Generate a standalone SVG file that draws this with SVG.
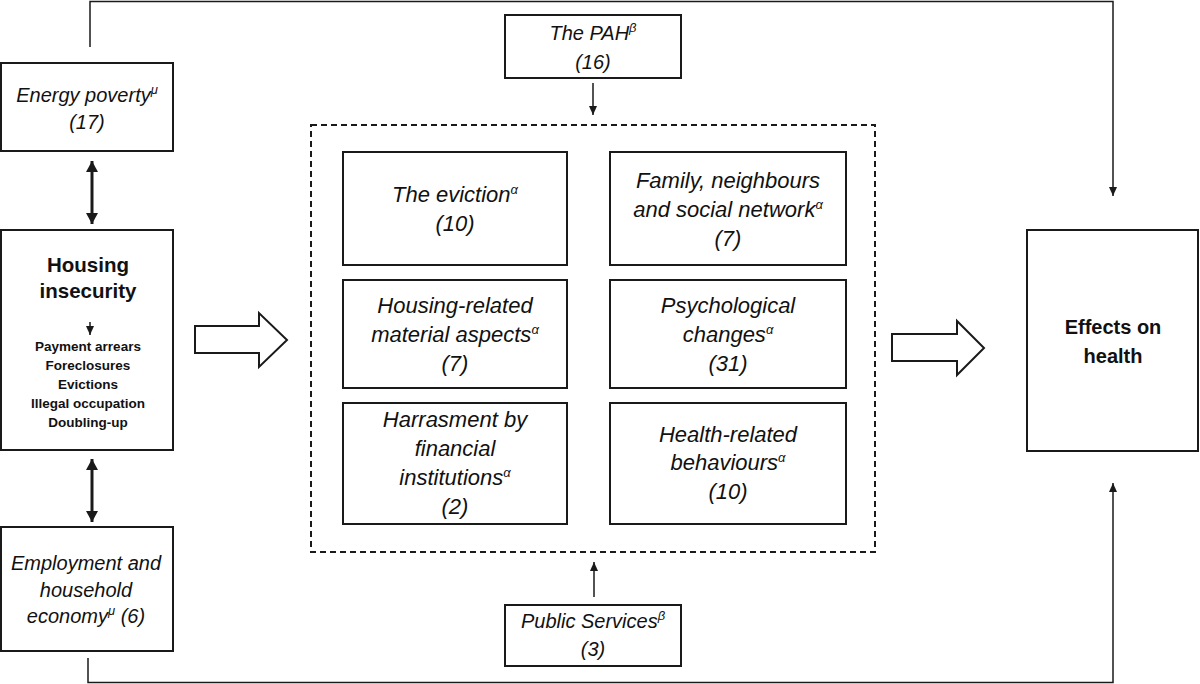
<svg xmlns="http://www.w3.org/2000/svg" width="1200" height="684" viewBox="0 0 1200 684">
<style>
  .box { fill: #fff; stroke: #1a1a1a; stroke-width: 2; }
  .dash { fill: none; stroke: #1a1a1a; stroke-width: 2; stroke-dasharray: 6 4; }
  .line { fill: none; stroke: #1a1a1a; stroke-width: 1.5; }
  .thick { fill: none; stroke: #1a1a1a; stroke-width: 3; }
  .block { fill: #fff; stroke: #1a1a1a; stroke-width: 2; stroke-linejoin: miter; }
  text { font-family: "Liberation Sans", Arial, sans-serif; fill: #111; text-anchor: middle; }
  .it { font-style: italic; font-size: 22px; }
  .itl { font-style: italic; font-size: 20px; }
  .bold { font-weight: bold; font-size: 20.5px; }
  .small { font-weight: bold; font-size: 13.5px; }
  .sup { font-size: 13px; }
</style>
<defs>
  <marker id="ah" markerUnits="userSpaceOnUse" markerWidth="10" markerHeight="10" refX="9" refY="5" orient="auto">
    <path d="M0,1 L9,5 L0,9 Z" fill="#1a1a1a"/>
  </marker>
  <marker id="ahb" markerUnits="userSpaceOnUse" markerWidth="12" markerHeight="14" refX="11" refY="7" orient="auto-start-reverse">
    <path d="M0,1 L11,7 L0,13 Z" fill="#1a1a1a"/>
  </marker>
</defs>

<g id="connectors">
  <polyline class="line" points="90,47 90,1.5 1113,1.5 1113,196" marker-end="url(#ah)"/>
  <polyline class="line" points="88,658 88,682.5 1113,682.5 1113,483" marker-end="url(#ah)"/>
  <line class="line" x1="593" y1="83" x2="593" y2="115" marker-end="url(#ah)"/>
  <line class="line" x1="594" y1="597" x2="594" y2="562" marker-end="url(#ah)"/>
  <line class="thick" x1="92" y1="161" x2="92" y2="224" marker-start="url(#ahb)" marker-end="url(#ahb)"/>
  <line class="thick" x1="92" y1="459" x2="92" y2="522" marker-start="url(#ahb)" marker-end="url(#ahb)"/>
  <polygon class="block" points="195,326 259,326 259,313 287,340 259,367 259,353 195,353"/>
  <polygon class="block" points="892,334 957,334 957,321 984,348 957,375 957,361 892,361"/>
</g>

<g id="energy-poverty">
  <rect class="box" x="1" y="63" width="172" height="88"/>
  <text class="itl" x="87" y="102">Energy poverty<tspan class="sup" dy="-8">μ</tspan></text>
  <text class="itl" x="87" y="129">(17)</text>
</g>

<g id="housing-insecurity">
  <rect class="box" x="1" y="230" width="172" height="220"/>
  <text class="bold" x="88" y="272">Housing</text>
  <text class="bold" x="88" y="298">insecurity</text>
  <line class="line" x1="90" y1="322" x2="90" y2="335" marker-end="url(#ah)"/>
  <text class="small" x="88" y="351">Payment arrears</text>
  <text class="small" x="88" y="370">Foreclosures</text>
  <text class="small" x="88" y="389">Evictions</text>
  <text class="small" x="88" y="408">Illegal occupation</text>
  <text class="small" x="88" y="427">Doubling-up</text>
</g>

<g id="employment">
  <rect class="box" x="1" y="527" width="172" height="124"/>
  <text class="itl" x="86" y="570">Employment and</text>
  <text class="itl" x="86" y="597">household</text>
  <text class="itl" x="86" y="623">economy<tspan class="sup" dy="-8">μ</tspan><tspan dy="8"> (6)</tspan></text>
</g>

<g id="pah">
  <rect class="box" x="505" y="15" width="176" height="63"/>
  <text class="itl" x="593" y="40">The PAH<tspan class="sup" dy="-8">β</tspan></text>
  <text class="itl" x="593" y="69">(16)</text>
</g>

<g id="mediators">
  <rect class="dash" x="311" y="125" width="564" height="427"/>
</g>

<g id="eviction">
  <rect class="box" x="343" y="152" width="224" height="113"/>
  <text class="it" x="455" y="202">The eviction<tspan class="sup" dy="-8">α</tspan></text>
  <text class="it" x="455" y="231">(10)</text>
</g>

<g id="family">
  <rect class="box" x="610" y="152" width="236" height="113"/>
  <text class="it" x="728" y="188">Family, neighbours</text>
  <text class="it" x="728" y="217">and social network<tspan class="sup" dy="-8">α</tspan></text>
  <text class="it" x="728" y="246">(7)</text>
</g>

<g id="housing-material">
  <rect class="box" x="343" y="280" width="224" height="108"/>
  <text class="it" x="455" y="313">Housing-related</text>
  <text class="it" x="455" y="342">material aspects<tspan class="sup" dy="-8">α</tspan></text>
  <text class="it" x="455" y="371">(7)</text>
</g>

<g id="psychological">
  <rect class="box" x="610" y="280" width="236" height="108"/>
  <text class="it" x="728" y="313">Psychological</text>
  <text class="it" x="728" y="342">changes<tspan class="sup" dy="-8">α</tspan></text>
  <text class="it" x="728" y="371">(31)</text>
</g>

<g id="harassment">
  <rect class="box" x="343" y="403" width="224" height="121"/>
  <text class="it" x="455" y="427">Harrasment by</text>
  <text class="it" x="455" y="456">financial</text>
  <text class="it" x="455" y="485">institutions<tspan class="sup" dy="-8">α</tspan></text>
  <text class="it" x="455" y="514">(2)</text>
</g>

<g id="health-behaviours">
  <rect class="box" x="610" y="403" width="236" height="121"/>
  <text class="it" x="728" y="442">Health-related</text>
  <text class="it" x="728" y="470">behaviours<tspan class="sup" dy="-8">α</tspan></text>
  <text class="it" x="728" y="499">(10)</text>
</g>

<g id="public-services">
  <rect class="box" x="505" y="605" width="176" height="61"/>
  <text class="itl" x="593" y="628">Public Services<tspan class="sup" dy="-8">β</tspan></text>
  <text class="itl" x="593" y="656">(3)</text>
</g>

<g id="effects-on-health">
  <rect class="box" x="1027" y="230" width="171" height="221"/>
  <text class="bold" x="1113" y="334" style="font-size:20px">Effects on</text>
  <text class="bold" x="1113" y="363" style="font-size:20px">health</text>
</g>
</svg>
